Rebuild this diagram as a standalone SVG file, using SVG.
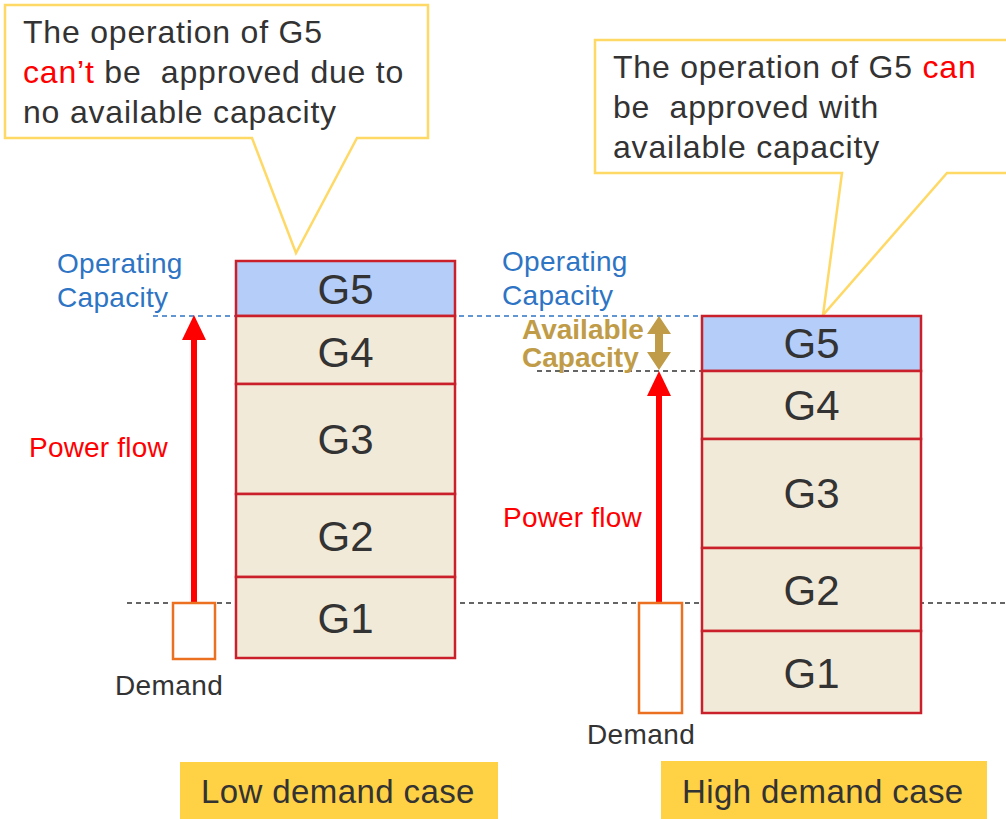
<svg xmlns="http://www.w3.org/2000/svg" width="1006" height="819" viewBox="0 0 1006 819">
<style>
text{font-family:"Liberation Sans",Arial,sans-serif;white-space:pre;}
.dark{fill:#333333;}
.call{fill:#ffffff;stroke:#FFD966;stroke-width:2.5;stroke-linejoin:miter;}
.gen{stroke:#C9202B;stroke-width:2.5;}
.beige{fill:#F2EAD9;}
.blue{fill:#B4CDF9;}
.gl{font-size:42px;fill:#333333;text-anchor:middle;}
.ct{font-size:32px;fill:#333333;letter-spacing:0.8px;}
.op{font-size:28px;fill:#2E74C4;letter-spacing:0.3px;}
.pf{font-size:28px;fill:#FF0000;letter-spacing:0.2px;}
.dm{font-size:28px;fill:#333333;letter-spacing:0.4px;}
.dash{stroke-width:1.3;stroke-dasharray:5,4;fill:none;}
.dbox{fill:#ffffff;stroke:#EB7020;stroke-width:2.5;}
.case{fill:#FFD145;}
.cs{font-size:33px;fill:#333333;letter-spacing:0.4px;}
</style>
<rect width="1006" height="819" fill="#ffffff"/>
<g id="connectors">
<line class="dash" x1="153" y1="316" x2="702" y2="316" stroke="#2E74C4"/>
<line class="dash" x1="127" y1="603" x2="1006" y2="603" stroke="#333333"/>
<line class="dash" x1="537" y1="371" x2="702" y2="371" stroke="#333333"/>
<g id="power-arrow-left" fill="#FF0000">
<rect x="191" y="336" width="6" height="267"/>
<polygon points="194,315 206,340 182,340"/>
</g>
<g id="power-arrow-right" fill="#FF0000">
<rect x="656" y="392" width="6" height="211"/>
<polygon points="659,371 671,396 647,396"/>
</g>
<g id="available-arrow" fill="#C09C48">
<polygon points="659,316 671,334 663,334 663,352 671,352 659,370 647,352 655,352 655,334 647,334"/>
</g>
</g>
<g id="callout-left">
<path class="call" d="M5,5 H428 V138 H357 L296,253 L252,138 H5 Z"/>
<text class="ct" x="23" y="43">The operation of G5</text>
<text class="ct" x="23" y="83" xml:space="preserve"><tspan fill="#FF0000">can’t</tspan> be  approved due to</text>
<text class="ct" x="23" y="123">no available capacity</text>
</g>
<g id="callout-right">
<path class="call" d="M595,40 H1015 V173 H947 L823,315 L842,173 H595 Z"/>
<text class="ct" x="613" y="78" xml:space="preserve">The operation of G5 <tspan fill="#FF0000">can</tspan></text>
<text class="ct" x="613" y="118" xml:space="preserve">be  approved with</text>
<text class="ct" x="613" y="158">available capacity</text>
</g>
<g id="stack-left">
<rect class="gen blue" x="236" y="261" width="219" height="55"/>
<rect class="gen beige" x="236" y="316" width="219" height="68"/>
<rect class="gen beige" x="236" y="384" width="219" height="110"/>
<rect class="gen beige" x="236" y="494" width="219" height="83"/>
<rect class="gen beige" x="236" y="577" width="219" height="81"/>
<text class="gl" x="345.5" y="304">G5</text>
<text class="gl" x="345.5" y="367">G4</text>
<text class="gl" x="345.5" y="454">G3</text>
<text class="gl" x="345.5" y="551">G2</text>
<text class="gl" x="345.5" y="633">G1</text>
</g>
<g id="stack-right">
<rect class="gen blue" x="702" y="316" width="219" height="55"/>
<rect class="gen beige" x="702" y="371" width="219" height="68"/>
<rect class="gen beige" x="702" y="439" width="219" height="109"/>
<rect class="gen beige" x="702" y="548" width="219" height="83"/>
<rect class="gen beige" x="702" y="631" width="219" height="82"/>
<text class="gl" x="811.5" y="358">G5</text>
<text class="gl" x="811.5" y="420">G4</text>
<text class="gl" x="811.5" y="508">G3</text>
<text class="gl" x="811.5" y="605">G2</text>
<text class="gl" x="811.5" y="688">G1</text>
</g>
<g id="labels-left">
<text class="op" x="57" y="273">Operating</text>
<text class="op" x="57" y="307">Capacity</text>
<text class="pf" x="29" y="457">Power flow</text>
</g>
<g id="labels-right">
<text class="op" x="502" y="271">Operating</text>
<text class="op" x="502" y="305">Capacity</text>
<text class="pf" x="503" y="527">Power flow</text>
<text x="522" y="339" font-size="28" font-weight="bold" fill="#C09C48">Available</text>
<text x="522" y="367" font-size="28" font-weight="bold" fill="#C09C48">Capacity</text>
</g>
<g id="demand-left">
<rect class="dbox" x="173" y="603" width="42" height="56"/>
<text class="dm" x="115" y="695">Demand</text>
</g>
<g id="demand-right">
<rect class="dbox" x="639" y="603" width="43" height="110"/>
<text class="dm" x="587" y="744">Demand</text>
</g>
<g id="case-low">
<rect class="case" x="180" y="762" width="318" height="57"/>
<text class="cs" x="201" y="803">Low demand case</text>
</g>
<g id="case-high">
<rect class="case" x="661" y="761" width="326" height="58"/>
<text class="cs" x="682" y="803">High demand case</text>
</g>
</svg>
